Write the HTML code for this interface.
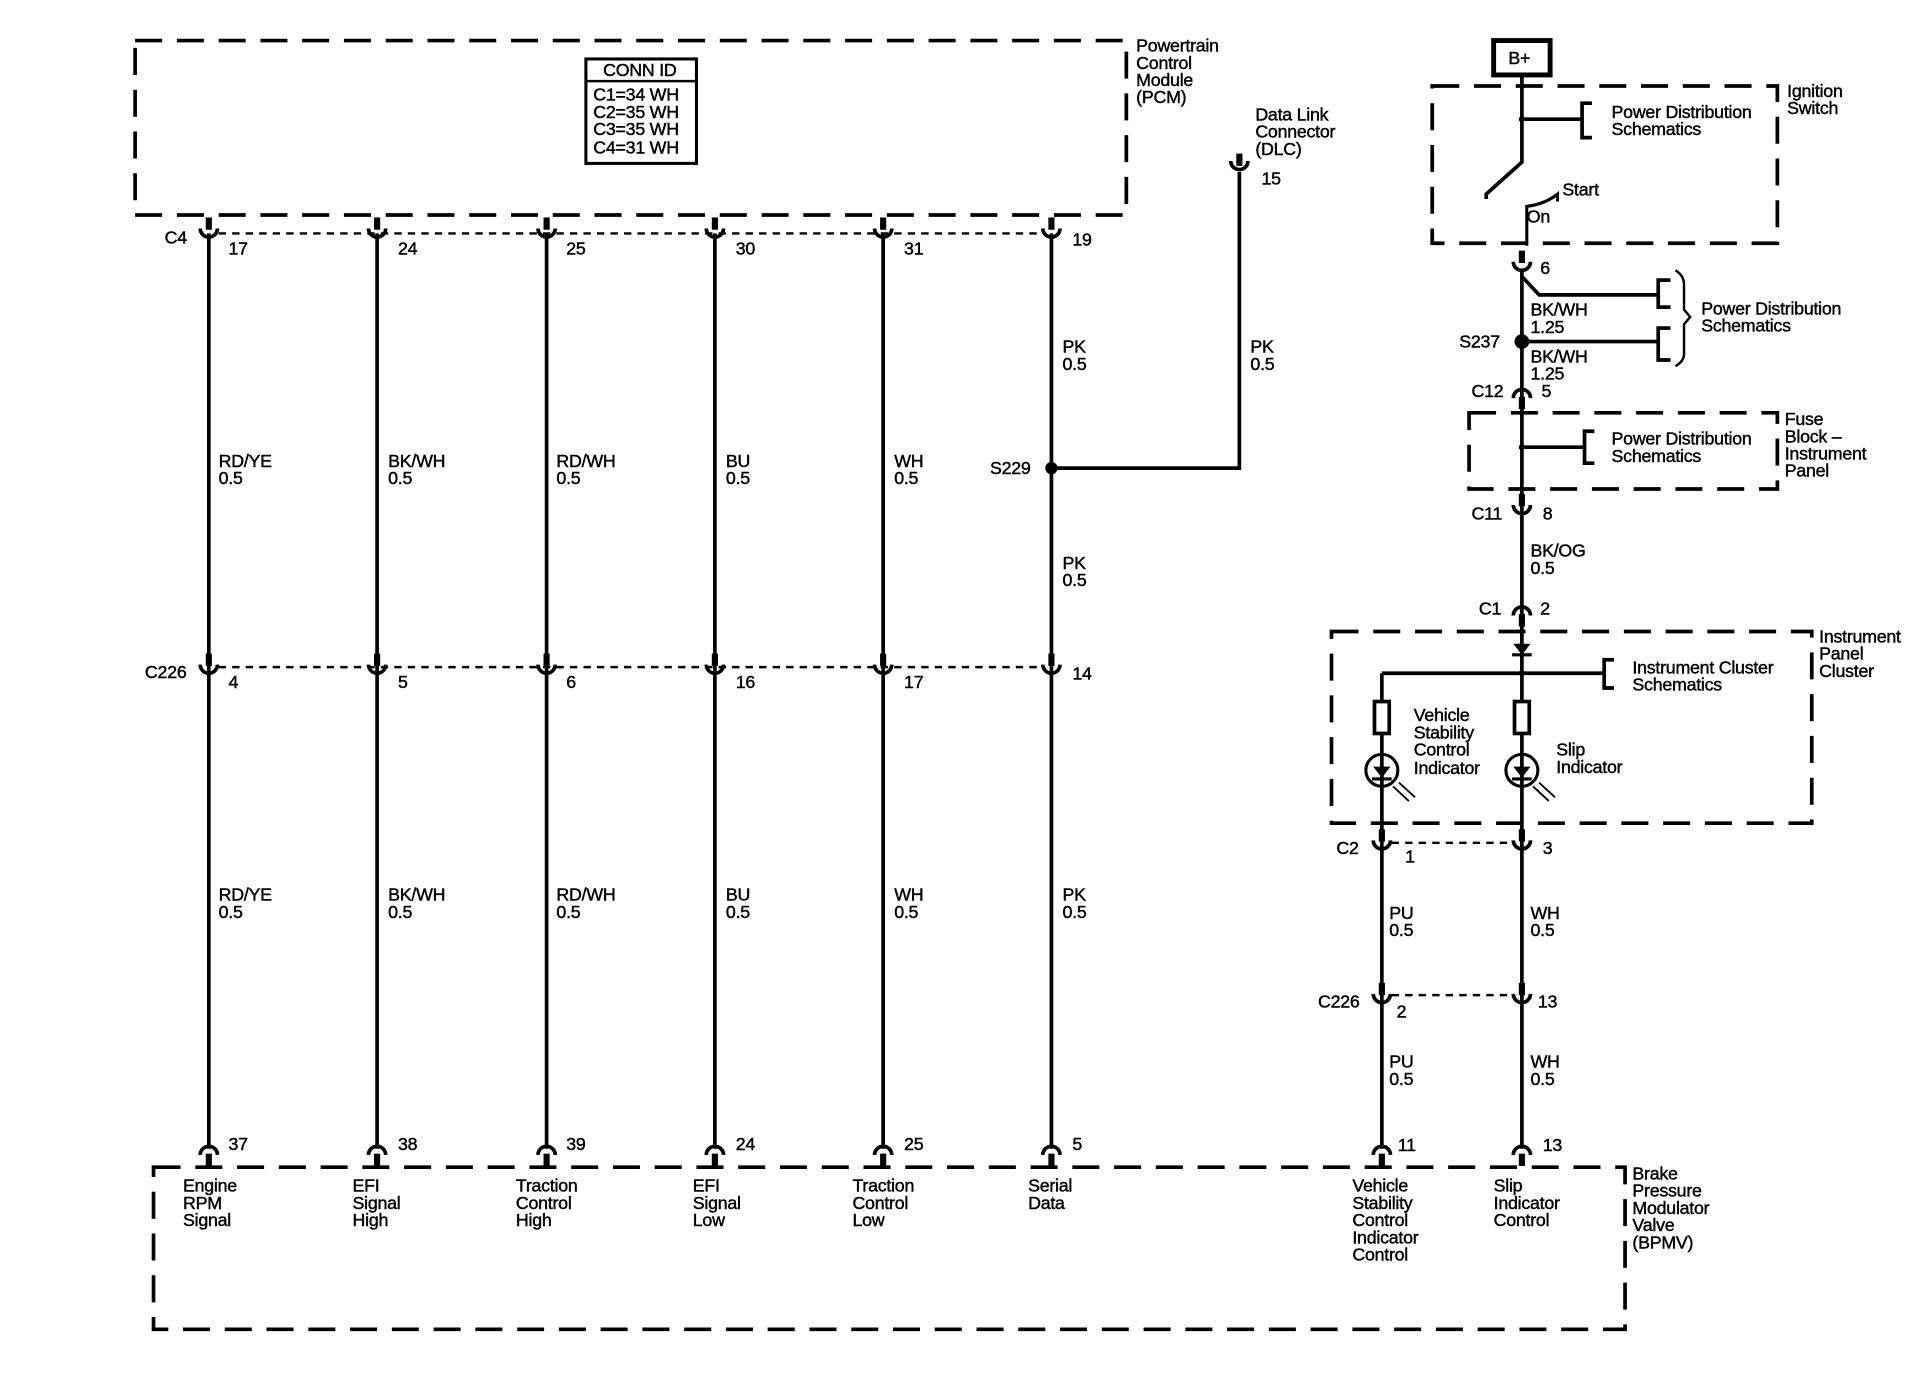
<!DOCTYPE html>
<html><head><meta charset="utf-8"><style>
html,body{margin:0;padding:0;background:#fff;}
svg{display:block;}
text{font-family:"Liberation Sans",Arial,sans-serif;font-size:14.5px;fill:#000;stroke:#000;stroke-width:0.35;letter-spacing:-0.2px;}
</style></head><body>
<svg width="1926" height="1392" viewBox="0 0 1568 1133" preserveAspectRatio="none" xmlns="http://www.w3.org/2000/svg">
<defs>
<g id="cu"><rect x="-2.5" y="-13" width="5" height="10" fill="#000"/><path d="M-7,-4 A7,7 0 0 0 7,-4" fill="none" stroke="#000" stroke-width="3"/></g>
<g id="cn"><rect x="-2.5" y="3" width="5" height="10" fill="#000"/><path d="M-7,4 A7,7 0 0 1 7,4" fill="none" stroke="#000" stroke-width="3"/></g>
</defs>
<rect width="1570" height="1135" fill="#fff"/>
<g fill="none" stroke="#000" stroke-width="3">
<rect x="110" y="33" width="807" height="142" stroke-dasharray="22,12"/>
<rect x="477" y="48" width="90" height="85" stroke-width="2.5"/>
<line x1="477" y1="66" x2="567" y2="66" stroke-width="2"/>
<rect x="125" y="950" width="1198" height="132" stroke-dasharray="22,12"/>
<line x1="178" y1="190" x2="850" y2="190" stroke-dasharray="6,5" stroke-width="2"/>
<line x1="178" y1="543" x2="850" y2="543" stroke-dasharray="6,5" stroke-width="2"/>
<line x1="1133" y1="686" x2="1232" y2="686" stroke-dasharray="6,5" stroke-width="2"/>
<line x1="1133" y1="810" x2="1232" y2="810" stroke-dasharray="6,5" stroke-width="2"/>
<path d="M170,190 V935 M307,190 V935 M445,190 V935 M582,190 V935 M719,190 V935 M856,190 V935"/>
<path d="M856,381 H1009 V140"/>
<rect x="1216" y="33" width="46" height="28" stroke-width="4"/>
<rect x="1166" y="70" width="281" height="128" stroke-dasharray="22,12"/>
<path d="M1239,61 V132 L1210,158 V162"/>
<path d="M1239,97 H1288 M1296,84 H1288 V112 H1296"/>
<path d="M1243,200 V168 Q1258,166 1268,158 V164" stroke-width="2.5"/>
<path d="M1239,220 V935"/>
<path d="M1239,225 L1253,240 H1350 M1360,228 H1350 V250 H1360"/>
<path d="M1239,278 H1350 M1360,267 H1350 V293 H1360"/>
<path d="M1364,220 Q1371,224 1371,232 V252 L1376,258 L1371,264 V288 Q1371,294 1364,298" stroke-width="2"/>
<rect x="1196" y="336" width="251" height="62" stroke-dasharray="22,12"/>
<path d="M1239,364 H1290 M1298,351 H1290 V377 H1298"/>
<rect x="1084" y="514" width="391" height="156" stroke-dasharray="22,12"/>
<path d="M1125,548 H1306 M1314,537 H1306 V560 H1314"/>
<path d="M1125,548 V935"/>
<rect x="1119" y="571" width="12" height="26" fill="#fff"/>
<rect x="1233" y="571" width="12" height="26" fill="#fff"/>
<circle cx="1125" cy="627" r="13" fill="none" stroke-width="2.5"/>
<circle cx="1239" cy="627" r="13" fill="none" stroke-width="2.5"/>
<path d="M1117,634 H1133 M1231,634 H1247 M1231,533 H1247" stroke-width="2.5"/>
<path d="M1134,640 L1147,652 M1139,637 L1152,649 M1248,640 L1261,652 M1253,637 L1266,649" stroke-width="1.5"/>
</g>
<g fill="#000">
<polygon points="1118,624 1132,624 1125,633"/>
<polygon points="1232,624 1246,624 1239,633"/>
<polygon points="1232,524 1246,524 1239,533"/>
<circle cx="856" cy="381" r="5"/>
<circle cx="1239" cy="278" r="6"/>
<circle cx="1239" cy="97" r="2.5"/>
<circle cx="1239" cy="364" r="2.5"/>
<circle cx="1239" cy="548" r="2.5"/>
<rect x="1006.5" y="125" width="5" height="10"/>
<path d="M1002,131 A7,7 0 0 0 1016,131" fill="none" stroke="#000" stroke-width="3"/>
</g>
<use href="#cu" x="170" y="190"/><use href="#cu" x="307" y="190"/><use href="#cu" x="445" y="190"/><use href="#cu" x="582" y="190"/><use href="#cu" x="719" y="190"/><use href="#cu" x="856" y="190"/>
<use href="#cu" x="170" y="545"/><use href="#cu" x="307" y="545"/><use href="#cu" x="445" y="545"/><use href="#cu" x="582" y="545"/><use href="#cu" x="719" y="545"/><use href="#cu" x="856" y="545"/>
<use href="#cn" x="170" y="936"/><use href="#cn" x="307" y="936"/><use href="#cn" x="445" y="936"/><use href="#cn" x="582" y="936"/><use href="#cn" x="719" y="936"/><use href="#cn" x="856" y="936"/>
<use href="#cn" x="1125" y="936"/><use href="#cn" x="1239" y="936"/>
<use href="#cu" x="1239" y="217"/>
<use href="#cn" x="1239" y="320"/>
<use href="#cu" x="1239" y="415"/>
<use href="#cn" x="1239" y="497"/>
<use href="#cu" x="1125" y="688"/><use href="#cu" x="1239" y="688"/>
<use href="#cu" x="1125" y="813"/><use href="#cu" x="1239" y="813"/>
<text x="925" y="42">Powertrain</text><text x="925" y="56">Control</text><text x="925" y="70">Module</text><text x="925" y="84">(PCM)</text>
<text x="491" y="62">CONN ID</text>
<text x="483" y="82">C1=34 WH</text><text x="483" y="96">C2=35 WH</text><text x="483" y="110">C3=35 WH</text><text x="483" y="125">C4=31 WH</text>
<text x="1022" y="98">Data Link</text><text x="1022" y="112">Connector</text><text x="1022" y="126">(DLC)</text>
<text x="1027" y="150">15</text>
<text x="134" y="198">C4</text>
<text x="186" y="207">17</text><text x="324" y="207">24</text><text x="461" y="207">25</text><text x="599" y="207">30</text><text x="736" y="207">31</text><text x="873" y="200">19</text>
<text x="118" y="552">C226</text>
<text x="186" y="560">4</text><text x="324" y="560">5</text><text x="461" y="560">6</text><text x="599" y="560">16</text><text x="736" y="560">17</text><text x="873" y="553">14</text>
<text x="186" y="936">37</text><text x="324" y="936">38</text><text x="461" y="936">39</text><text x="599" y="936">24</text><text x="736" y="936">25</text><text x="873" y="936">5</text>
<text x="1138" y="937">11</text><text x="1256" y="937">13</text>
<text x="178" y="380">RD/YE</text><text x="178" y="394">0.5</text>
<text x="316" y="380">BK/WH</text><text x="316" y="394">0.5</text>
<text x="453" y="380">RD/WH</text><text x="453" y="394">0.5</text>
<text x="591" y="380">BU</text><text x="591" y="394">0.5</text>
<text x="728" y="380">WH</text><text x="728" y="394">0.5</text>
<text x="178" y="733">RD/YE</text><text x="178" y="747">0.5</text>
<text x="316" y="733">BK/WH</text><text x="316" y="747">0.5</text>
<text x="453" y="733">RD/WH</text><text x="453" y="747">0.5</text>
<text x="591" y="733">BU</text><text x="591" y="747">0.5</text>
<text x="728" y="733">WH</text><text x="728" y="747">0.5</text>
<text x="865" y="287">PK</text><text x="865" y="301">0.5</text>
<text x="865" y="463">PK</text><text x="865" y="477">0.5</text>
<text x="865" y="733">PK</text><text x="865" y="747">0.5</text>
<text x="1018" y="287">PK</text><text x="1018" y="301">0.5</text>
<text x="806" y="386">S229</text>
<text x="149" y="970">Engine</text><text x="149" y="984">RPM</text><text x="149" y="998">Signal</text>
<text x="287" y="970">EFI</text><text x="287" y="984">Signal</text><text x="287" y="998">High</text>
<text x="420" y="970">Traction</text><text x="420" y="984">Control</text><text x="420" y="998">High</text>
<text x="564" y="970">EFI</text><text x="564" y="984">Signal</text><text x="564" y="998">Low</text>
<text x="694" y="970">Traction</text><text x="694" y="984">Control</text><text x="694" y="998">Low</text>
<text x="837" y="970">Serial</text><text x="837" y="984">Data</text>
<text x="1101" y="970">Vehicle</text><text x="1101" y="984">Stability</text><text x="1101" y="998">Control</text><text x="1101" y="1012">Indicator</text><text x="1101" y="1026">Control</text>
<text x="1216" y="970">Slip</text><text x="1216" y="984">Indicator</text><text x="1216" y="998">Control</text>
<text x="1329" y="960">Brake</text><text x="1329" y="974">Pressure</text><text x="1329" y="988">Modulator</text><text x="1329" y="1002">Valve</text><text x="1329" y="1016">(BPMV)</text>
<text x="1228" y="52">B+</text>
<text x="1455" y="79">Ignition</text><text x="1455" y="93">Switch</text>
<text x="1312" y="96">Power Distribution</text><text x="1312" y="110">Schematics</text>
<text x="1272" y="159">Start</text><text x="1243" y="181">On</text>
<text x="1254" y="223">6</text>
<text x="1246" y="257">BK/WH</text><text x="1246" y="271">1.25</text>
<text x="1188" y="283">S237</text>
<text x="1246" y="295">BK/WH</text><text x="1246" y="309">1.25</text>
<text x="1385" y="256">Power Distribution</text><text x="1385" y="270">Schematics</text>
<text x="1198" y="323">C12</text><text x="1255" y="323">5</text>
<text x="1312" y="362">Power Distribution</text><text x="1312" y="376">Schematics</text>
<text x="1453" y="346">Fuse</text><text x="1453" y="360">Block –</text><text x="1453" y="374">Instrument</text><text x="1453" y="388">Panel</text>
<text x="1198" y="423">C11</text><text x="1256" y="423">8</text>
<text x="1246" y="453">BK/OG</text><text x="1246" y="467">0.5</text>
<text x="1204" y="500">C1</text><text x="1254" y="500">2</text>
<text x="1481" y="523">Instrument</text><text x="1481" y="537">Panel</text><text x="1481" y="551">Cluster</text>
<text x="1329" y="548">Instrument Cluster</text><text x="1329" y="562">Schematics</text>
<text x="1151" y="587">Vehicle</text><text x="1151" y="601">Stability</text><text x="1151" y="615">Control</text><text x="1151" y="630">Indicator</text>
<text x="1267" y="615">Slip</text><text x="1267" y="629">Indicator</text>
<text x="1088" y="695">C2</text><text x="1144" y="702">1</text><text x="1256" y="695">3</text>
<text x="1131" y="748">PU</text><text x="1131" y="762">0.5</text>
<text x="1246" y="748">WH</text><text x="1246" y="762">0.5</text>
<text x="1073" y="820">C226</text><text x="1137" y="828">2</text><text x="1252" y="820">13</text>
<text x="1131" y="869">PU</text><text x="1131" y="883">0.5</text>
<text x="1246" y="869">WH</text><text x="1246" y="883">0.5</text>
</svg>
</body></html>
